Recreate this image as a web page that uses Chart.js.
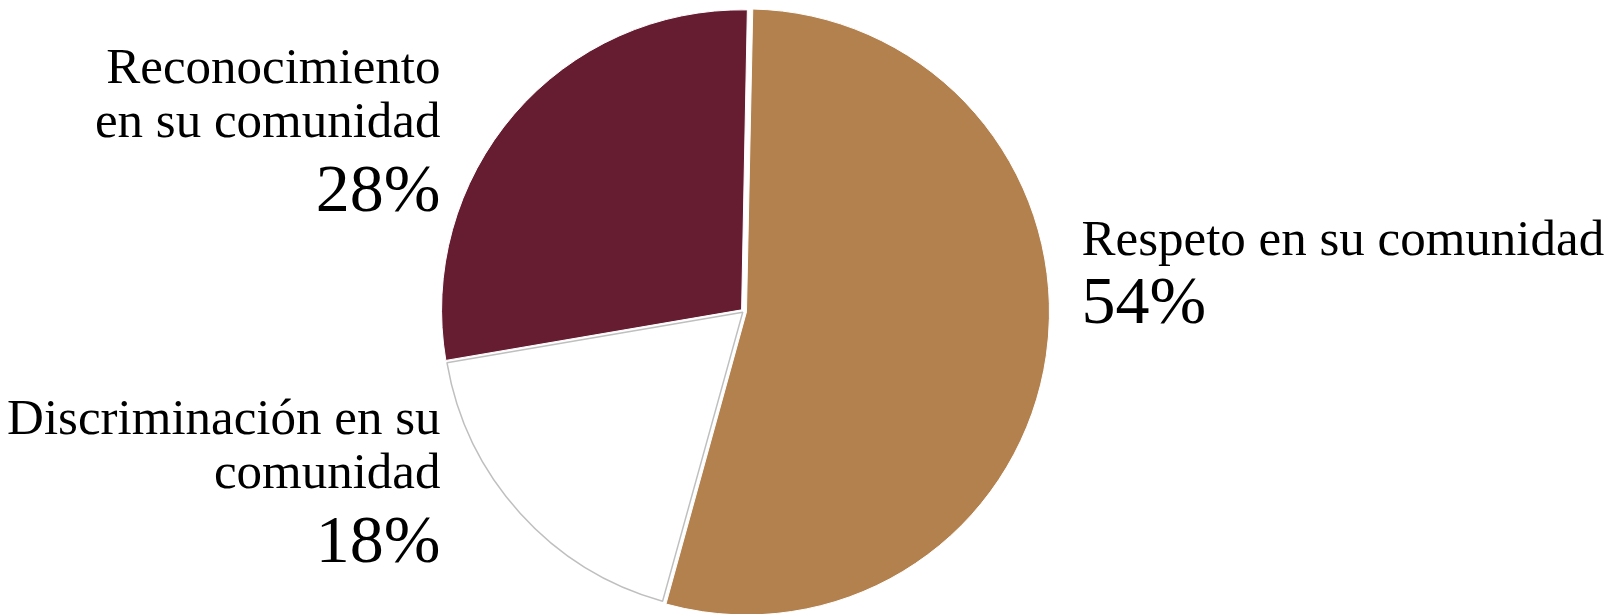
<!DOCTYPE html>
<html>
<head>
<meta charset="utf-8">
<script src="https://cdn.jsdelivr.net/npm/chart.js@4.4.0/dist/chart.umd.min.js"></script>
<style>
  html, body { margin: 0; padding: 0; background: #fff; }
  #wrap { width: 1621px; height: 614px; position: relative; }
</style>
</head>
<body>
<div id="wrap"><canvas id="pieChart"></canvas></div>
<script>
// categories (label lines) and values, clockwise from the top
const categories = [
  ['Respeto en su comunidad'],
  ['Discriminación en su', 'comunidad'],
  ['Reconocimiento', 'en su comunidad']
];
const percentValues = [54, 18, 28];
const sliceColors = ['#B3814E', '#FFFFFF', '#661D32'];
const sliceBorders = ['#FFFFFF', '#BFBFBF', '#FFFFFF'];

// label placement: shift of the first line from the pie centre, gap to the percent line
const labelShiftY = [-57, 122, -229];
const percentGap = [68, 74, 74];

const labelPlugin = {
  id: 'sliceLabels',
  afterDatasetsDraw(chart) {
    const ctx = chart.ctx;
    const meta = chart.getDatasetMeta(0);
    ctx.save();
    ctx.fillStyle = '#000';
    ctx.textBaseline = 'alphabetic';
    meta.data.forEach((arc, i) => {
      const p = arc.getProps(['x', 'y', 'startAngle', 'endAngle', 'outerRadius'], true);
      const mid = (p.startAngle + p.endAngle) / 2;
      const rightSide = Math.cos(mid) > 0;
      let x, align;
      if (rightSide) {
        x = p.x + p.outerRadius + 38;
        align = 'left';
      } else {
        x = p.x - p.outerRadius - 3;
        align = 'right';
      }
      ctx.textAlign = align;
      let y = p.y + labelShiftY[i];
      ctx.font = '51px "Liberation Serif"';
      categories[i].forEach((line, k) => {
        if (k > 0) y += 54.5;
        ctx.fillText(line, x, y);
      });
      y += percentGap[i];
      ctx.font = '68px "Liberation Serif"';
      ctx.fillText(percentValues[i] + '%', x, y);
    });
    ctx.restore();
  }
};

const ctxPie = document.getElementById('pieChart').getContext('2d');
const pieChart = new Chart(ctxPie, {
  type: 'pie',
  data: {
    labels: categories.map(c => c.join(' ')),
    datasets: [{
      data: percentValues,
      backgroundColor: sliceColors,
      borderColor: sliceBorders,
      borderWidth: [1, 1.5, 1],
      offset: [12, 4, 10]
    }]
  },
  options: {
    responsive: true,
    maintainAspectRatio: false,
    animation: false,
    rotation: 1.1,
    radius: 300,
    layout: { padding: { left: 0, right: 134, top: 9, bottom: 0 } },
    plugins: {
      legend: { display: false },
      tooltip: { enabled: false }
    }
  },
  plugins: [labelPlugin]
});
</script>
</body>
</html>
